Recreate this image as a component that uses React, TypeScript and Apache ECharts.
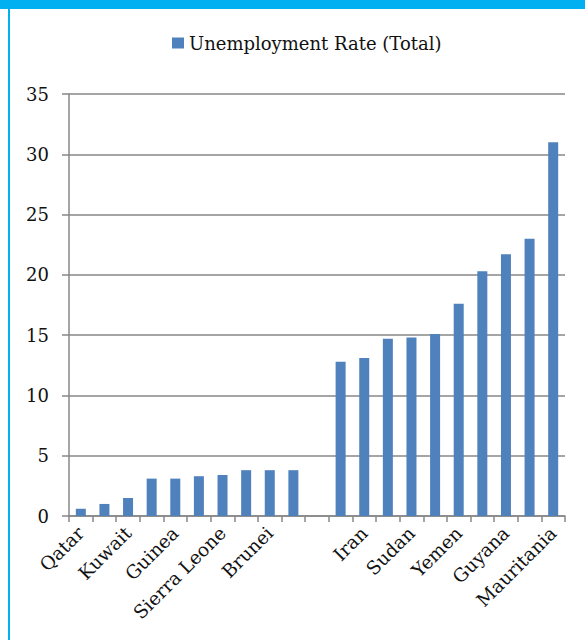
import React, { useEffect, useRef } from "react";
import * as echarts from "echarts";

const categories = [
  "Qatar", "", "Kuwait", "", "Guinea", "", "Sierra Leone", "", "Brunei", "", "",
  "", "Iran", "", "Sudan", "", "Yemen", "", "Guyana", "", "Mauritania",
];
const unemploymentRate: (number | null)[] = [
  0.6, 1.0, 1.5, 3.1, 3.1, 3.3, 3.4, 3.8, 3.8, 3.8, null,
  12.8, 13.1, 14.7, 14.8, 15.1, 17.6, 20.3, 21.7, 23.0, 31.0,
];
const seriesName = "Unemployment Rate (Total)";
const yMin = 0;
const yMax = 35;
const yInterval = 5;

const FONT = "DejaVu Serif";
const GRAY = "#878787";

export default function App() {
  const ref = useRef<HTMLDivElement>(null);
  useEffect(() => {
    if (!ref.current) return;
    const chart = echarts.init(ref.current, null, { renderer: "svg" });
    chart.setOption({
      animation: false,
      backgroundColor: "#ffffff",
      textStyle: { fontFamily: FONT },
      graphic: [
        { type: "rect", left: 0, top: 0, shape: { width: 585, height: 9 }, style: { fill: "#00B0F0" } },
        { type: "rect", left: 8, top: 0, shape: { width: 2, height: 640 }, style: { fill: "#00B0F0" } },
      ],
      legend: {
        top: 34,
        left: 172,
        padding: 0,
        itemWidth: 12,
        itemHeight: 11,
        icon: "rect",
        textStyle: { fontFamily: FONT, fontSize: 18, color: "#111" },
        data: [seriesName],
      },
      grid: { left: 69, right: 20, top: 94, bottom: 124, containLabel: false },
      xAxis: {
        type: "category",
        data: categories,
        boundaryGap: true,
        axisLine: { show: true, lineStyle: { color: GRAY, width: 1.5 } },
        axisTick: { show: true, length: 6, interval: 0, alignWithLabel: false, lineStyle: { color: GRAY, width: 1.5 } },
        axisLabel: {
          interval: 0,
          rotate: 45,
          margin: 14,
          fontFamily: FONT,
          fontSize: 18.5,
          color: "#111",
        },
      },
      yAxis: {
        type: "value",
        min: yMin,
        max: yMax,
        interval: yInterval,
        axisLine: { show: true, lineStyle: { color: GRAY, width: 1.5 } },
        axisTick: { show: true, length: 7, lineStyle: { color: GRAY, width: 1.5 } },
        splitLine: { show: true, lineStyle: { color: GRAY, width: 1.5 } },
        axisLabel: { margin: 20, fontFamily: FONT, fontSize: 18, color: "#111" },
      },
      series: [
        {
          name: seriesName,
          type: "bar",
          data: unemploymentRate,
          barWidth: 10,
          itemStyle: { color: "#4F81BD" },
        },
      ],
    });
    return () => chart.dispose();
  }, []);
  return (
    <div
      ref={ref}
      style={{ position: "fixed", left: 0, top: 0, width: 585, height: 640 }}
    />
  );
}
